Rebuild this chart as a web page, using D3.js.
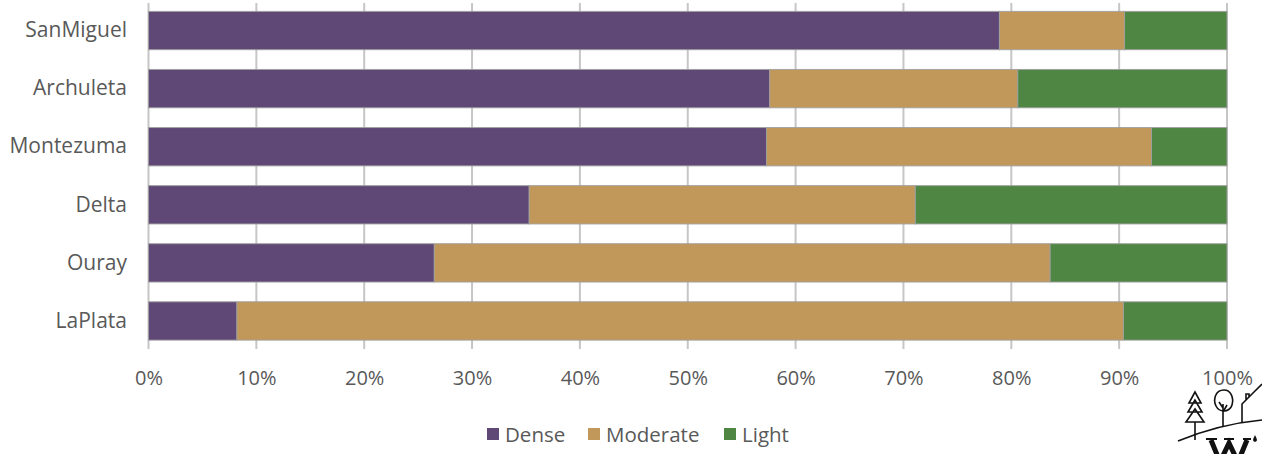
<!DOCTYPE html>
<html>
<head>
<meta charset="utf-8">
<script src="https://cdn.jsdelivr.net/npm/d3@7"></script>
<style>
  html, body { margin: 0; padding: 0; background: #fff; }
  svg { display: block; }
  text { font-family: "Open Sans", "Noto Sans", sans-serif; fill: #595959; }
</style>
</head>
<body>
<svg id="chart" width="1262" height="454"></svg>
<script>
// Counties, top to bottom
const counties = ["SanMiguel", "Archuleta", "Montezuma", "Delta", "Ouray", "LaPlata"];

// Share of each density class per county (percent)
const dense    = [78.9, 57.6, 57.3, 35.3, 26.5,  8.2];
const moderate = [11.6, 23.0, 35.7, 35.8, 57.1, 82.2];
const light    = [ 9.5, 19.4,  7.0, 28.9, 16.4,  9.6];

const seriesNames = ["Dense", "Moderate", "Light"];
const seriesColors = ["#5f4876", "#c19859", "#4f8643"];
const tickValues = [0, 10, 20, 30, 40, 50, 60, 70, 80, 90, 100];

const rows = counties.map((c, i) => ({
  county: c, Dense: dense[i], Moderate: moderate[i], Light: light[i]
}));

const svg = d3.select("#chart");

const x = d3.scaleLinear().domain([0, 100]).range([148.5, 1227]);
const y = d3.scaleBand().domain(counties).range([1.5, 350])
  .paddingInner(0.34).paddingOuter(0.17);
const color = d3.scaleOrdinal().domain(seriesNames).range(seriesColors);

// Vertical gridlines, extending a little below the plot as tick marks
svg.append("g")
  .selectAll("line")
  .data(tickValues)
  .join("line")
  .attr("x1", d => x(d)).attr("x2", d => x(d))
  .attr("y1", 3).attr("y2", 349)
  .attr("stroke", "#c6c6c6")
  .attr("stroke-width", 2);

// Stacked bars
const stack = d3.stack().keys(seriesNames)(rows);
svg.append("g")
  .selectAll("g")
  .data(stack)
  .join("g")
  .attr("fill", d => color(d.key))
  .selectAll("rect")
  .data(d => d)
  .join("rect")
  .attr("x", d => x(d[0]))
  .attr("y", d => y(d.data.county))
  .attr("width", d => x(d[1]) - x(d[0]))
  .attr("height", y.bandwidth())
  .attr("stroke", "rgba(160,160,160,0.9)")
  .attr("stroke-width", 1);

// Category labels
const yAxis = d3.axisLeft(y).tickSize(0).tickPadding(0);
const yg = svg.append("g").attr("transform", "translate(127,0)").call(yAxis);
yg.select(".domain").remove();
yg.selectAll("text")
  .attr("font-size", 21)
  .attr("fill", "#595959")
  .style("font-family", '"Open Sans", "Noto Sans", sans-serif');

// Percent axis
const xAxis = d3.axisBottom(x).tickValues(tickValues).tickFormat(d => d + "%").tickSize(0).tickPadding(0);
const xg = svg.append("g").attr("transform", "translate(0,371)").call(xAxis);
xg.select(".domain").remove();
xg.selectAll("text")
  .attr("font-size", 20)
  .attr("fill", "#595959")
  .style("font-family", '"Open Sans", "Noto Sans", sans-serif');

// Legend
const legendX = [487, 588, 724];
const legend = svg.append("g")
  .selectAll("g")
  .data(seriesNames)
  .join("g")
  .attr("transform", (d, i) => `translate(${legendX[i]},428)`);
legend.append("rect")
  .attr("width", 12).attr("height", 12)
  .attr("fill", d => color(d));
legend.append("text")
  .attr("x", 18).attr("y", 13.5)
  .attr("font-size", 20.5)
  .text(d => d);

// Emblem in the corner: pine, round tree, house, ground line and lettering
const logo = svg.append("g")
  .attr("fill", "none")
  .attr("stroke", "#111")
  .attr("stroke-width", 1.6)
  .attr("stroke-linejoin", "miter");
// pine tree
logo.append("path").attr("d",
  "M1195,392 L1189,403 L1201,403 Z M1195,400 L1188,412 L1202,412 Z M1195,409 L1186,422 L1204,422 Z M1195,422 L1195,440");
// round tree
logo.append("path").attr("d",
  "M1224,390 C1215,390 1213,400 1216,406 C1218,410 1222,411 1224,411 C1227,411 1231,409 1232,405 C1234,398 1231,390 1224,390 Z");
logo.append("path").attr("d", "M1223,404 L1223,426 M1223,408 L1219,402 M1223,412 L1227,405");
// house
logo.append("path").attr("d",
  "M1242,422 L1242,404 L1254,392 L1262,384 M1246,400 L1246,394 L1249,394 L1249,397");
// ground arc
logo.append("path").attr("d", "M1178,441 C1200,432 1230,423 1262,420");
// bold serif letter drawn as a shape, running off the bottom edge
const mark = svg.append("g").attr("stroke", "#111").attr("fill", "none");
mark.append("path")
  .attr("d", "M1211,440 L1220,462 L1229,443 L1238,462 L1247,440")
  .attr("stroke-width", 5)
  .attr("stroke-linejoin", "miter");
mark.append("path")
  .attr("d", "M1206,439 L1217,439 M1224,439 L1234,439 M1243,439 L1251,439")
  .attr("stroke-width", 2);
svg.append("path")
  .attr("d", "M1255,435 C1253,439 1252,441 1255,442 C1258,441 1257,439 1255,435 Z")
  .attr("fill", "#111");
</script>
</body>
</html>
